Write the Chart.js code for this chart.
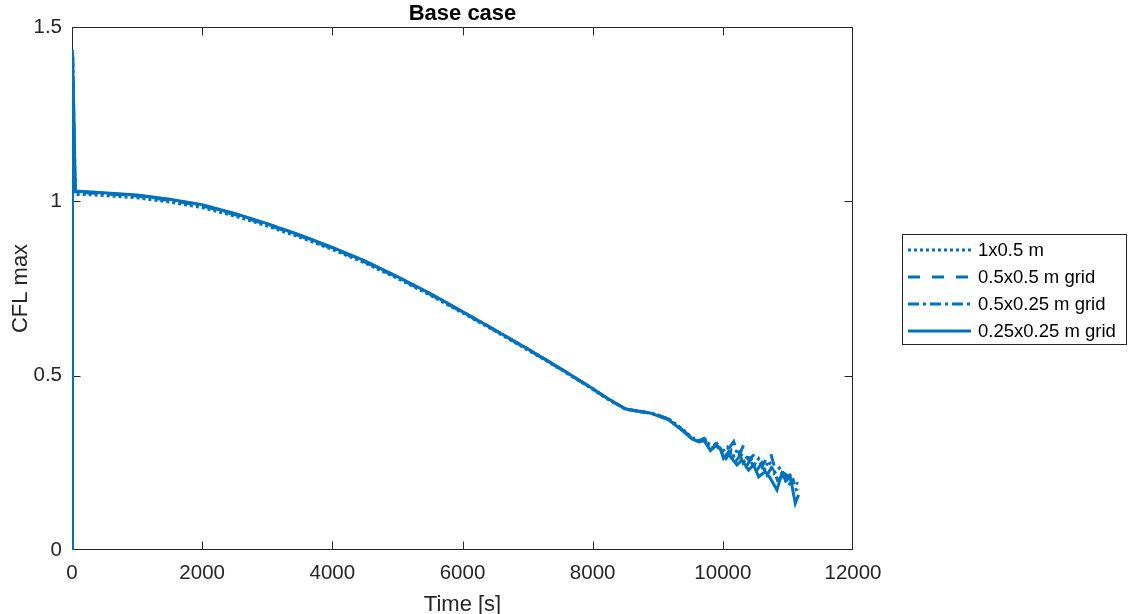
<!DOCTYPE html>
<html>
<head>
<meta charset="utf-8">
<title>Base case</title>
<script src="https://cdn.jsdelivr.net/npm/chart.js@4.4.1/dist/chart.umd.min.js"></script>
<style>
  html, body { margin: 0; padding: 0; background: #fff; }
  #wrap { width: 1128px; height: 614px; }
</style>
</head>
<body>
<div id="wrap"><canvas id="cflChart" width="1128" height="614"></canvas></div>
<script>
// ---------- DATA ----------
// shared start of every run: spin-up spike, then the smooth decay (time in s)
const headTime = [0, 8, 50, 300, 1000, 1500, 2000, 2500, 3000, 3500, 4000, 4500,
  5000, 5500, 6000, 6500, 7000, 7500, 8000, 8200, 8500, 8700, 8900];

const cflCoarseHead = [0, 1.42, 1.02, 1.019, 1.010, 0.998, 0.982, 0.958, 0.929, 0.897, 0.862, 0.823,
  0.779, 0.731, 0.680, 0.628, 0.574, 0.519, 0.461, 0.436, 0.404, 0.397, 0.393];
const cflMediumHead = [0, 1.43, 1.025, 1.024, 1.015, 1.003, 0.987, 0.962, 0.933, 0.901, 0.865, 0.826,
  0.782, 0.734, 0.682, 0.630, 0.576, 0.520, 0.462, 0.437, 0.405, 0.399, 0.394];
const cflFineHead = [0, 1.435, 1.028, 1.026, 1.017, 1.005, 0.989, 0.964, 0.935, 0.903, 0.867, 0.828,
  0.783, 0.735, 0.683, 0.631, 0.577, 0.521, 0.463, 0.438, 0.405, 0.398, 0.392];
const cflFinestHead = [0, 1.43, 1.03, 1.027, 1.018, 1.006, 0.990, 0.965, 0.936, 0.904, 0.868, 0.829,
  0.784, 0.736, 0.684, 0.631, 0.577, 0.521, 0.463, 0.438, 0.405, 0.398, 0.392];

// noisy tail of each run
const coarseTailTime = [9170, 9370, 9530, 9640, 9730, 9830, 9910, 9990, 10070, 10150, 10230, 10310,
  10390, 10470, 10550, 10630, 10710, 10790, 10870, 10950, 11030, 11100, 11160];
const coarseTailCfl = [0.376, 0.348, 0.322, 0.314, 0.318, 0.292, 0.305, 0.282, 0.295, 0.265, 0.290, 0.250,
  0.272, 0.240, 0.262, 0.232, 0.255, 0.220, 0.235, 0.205, 0.215, 0.195, 0.190];

const mediumTailTime = [9170, 9370, 9530, 9630, 9710, 9810, 9890, 9960, 10020, 10090, 10166, 10243,
  10319, 10396, 10499, 10601, 10729, 10806, 10908, 11010, 11113, 11164];
const mediumTailCfl = [0.375, 0.346, 0.320, 0.313, 0.320, 0.290, 0.305, 0.290, 0.275, 0.290, 0.311, 0.268,
  0.301, 0.258, 0.277, 0.239, 0.282, 0.229, 0.225, 0.210, 0.182, 0.172];

const fineTailTime = [9170, 9370, 9530, 9640, 9720, 9820, 9900, 9980, 10050, 10130, 10200, 10280,
  10360, 10440, 10520, 10600, 10680, 10760, 10840, 10920, 11000, 11080, 11150];
const fineTailCfl = [0.374, 0.345, 0.319, 0.310, 0.314, 0.287, 0.300, 0.280, 0.262, 0.285, 0.255, 0.275,
  0.240, 0.262, 0.228, 0.250, 0.215, 0.240, 0.200, 0.212, 0.185, 0.200, 0.160];

const finestTailTime = [9170, 9370, 9530, 9630, 9700, 9810, 9885, 9960, 10010, 10090, 10115, 10217,
  10294, 10396, 10473, 10550, 10652, 10729, 10831, 10908, 10985, 11036, 11113, 11164];
const finestTailCfl = [0.373, 0.344, 0.318, 0.311, 0.317, 0.285, 0.301, 0.292, 0.263, 0.282, 0.268, 0.244,
  0.258, 0.229, 0.244, 0.210, 0.225, 0.206, 0.172, 0.220, 0.201, 0.210, 0.134, 0.158];

const seriesNames = ["1x0.5 m", "0.5x0.5 m grid", "0.5x0.25 m grid", "0.25x0.25 m grid"];
const xTicks = [0, 2000, 4000, 6000, 8000, 10000, 12000];
const yTicks = [0, 0.5, 1, 1.5];

// ---------- STYLE ----------
const BLUE = "#0072BD";
const INK = "#262626";
const FONT = "'Liberation Sans', Arial, Helvetica, sans-serif";

function toPoints(ts, vs) {
  return ts.map((t, i) => ({ x: t, y: vs[i] }));
}

const runs = [
  { head: cflCoarseHead, tailT: coarseTailTime, tailV: coarseTailCfl, dash: [3, 3], order: 3 },
  { head: cflMediumHead, tailT: mediumTailTime, tailV: mediumTailCfl, dash: [12, 12], order: 2 },
  { head: cflFineHead,   tailT: fineTailTime,   tailV: fineTailCfl,   dash: [11, 4, 3, 4], order: 1 },
  { head: cflFinestHead, tailT: finestTailTime, tailV: finestTailCfl, dash: [], order: 0 },
];

const datasets = runs.map((r, i) => ({
  label: seriesNames[i],
  data: toPoints(headTime.concat(r.tailT), r.head.concat(r.tailV)),
  borderColor: BLUE,
  backgroundColor: BLUE,
  borderWidth: 3,
  borderDash: r.dash,
  pointRadius: 0,
  tension: 0,
  fill: false,
  order: r.order,
}));

// ---------- AXES BOX, TITLES, LEGEND ----------
const frame = {
  id: "frame",
  beforeDatasetsDraw(chart) {
    const { ctx, chartArea: a, scales: { x, y } } = chart;
    const L = Math.round(a.left) + 0.5, R = Math.round(a.right) - 0.5;
    const T = Math.round(a.top) + 0.5, B = Math.round(a.bottom) - 0.5;
    const clampX = (p) => Math.min(Math.max(p, L), R);
    const clampY = (p) => Math.min(Math.max(p, T), B);
    ctx.save();
    ctx.strokeStyle = INK;
    ctx.lineWidth = 1;
    ctx.strokeRect(L, T, R - L, B - T);
    ctx.beginPath();
    xTicks.forEach(v => {
      const px = clampX(Math.round(x.getPixelForValue(v)) + 0.5);
      ctx.moveTo(px, B); ctx.lineTo(px, B - 8);
      ctx.moveTo(px, T); ctx.lineTo(px, T + 8);
    });
    yTicks.forEach(v => {
      const py = clampY(Math.round(y.getPixelForValue(v)) + 0.5);
      ctx.moveTo(L, py); ctx.lineTo(L + 8, py);
      ctx.moveTo(R, py); ctx.lineTo(R - 8, py);
    });
    ctx.stroke();
    ctx.restore();
  },
  afterDraw(chart) {
    const { ctx, chartArea: a } = chart;
    const midX = (a.left + a.right) / 2;
    ctx.save();
    ctx.fillStyle = "#000";
    ctx.textAlign = "center";
    ctx.textBaseline = "alphabetic";
    ctx.font = `bold 22px ${FONT}`;
    ctx.fillText("Base case", midX, 20);

    ctx.fillStyle = INK;
    ctx.font = `22px ${FONT}`;
    ctx.fillText("Time [s]", midX, 611);

    ctx.save();
    ctx.translate(27, (a.top + a.bottom) / 2);
    ctx.rotate(-Math.PI / 2);
    ctx.fillText("CFL max", 0, 0);
    ctx.restore();

    // legend
    const box = { x: 902.5, y: 234.5, w: 224, h: 110 };
    ctx.fillStyle = "#fff";
    ctx.fillRect(box.x, box.y, box.w, box.h);
    ctx.strokeStyle = INK;
    ctx.lineWidth = 1;
    ctx.strokeRect(box.x, box.y, box.w, box.h);
    ctx.font = `18.5px ${FONT}`;
    ctx.textAlign = "left";
    ctx.textBaseline = "middle";
    chart.data.datasets.forEach((ds, i) => {
      const cy = 250 + i * 27;
      ctx.strokeStyle = ds.borderColor;
      ctx.lineWidth = 3;
      ctx.setLineDash(ds.borderDash);
      ctx.beginPath();
      ctx.moveTo(908, cy);
      ctx.lineTo(971, cy);
      ctx.stroke();
      ctx.setLineDash([]);
      ctx.fillStyle = "#000";
      ctx.fillText(ds.label, 978, cy + 1);
    });
    ctx.restore();
  },
};

// ---------- CHART ----------
new Chart(document.getElementById("cflChart").getContext("2d"), {
  type: "line",
  data: { datasets },
  options: {
    responsive: false,
    animation: false,
    devicePixelRatio: 1,
    layout: { padding: { top: 27, right: 275, left: 0, bottom: 0 } },
    plugins: {
      legend: { display: false },
      title: { display: false },
      tooltip: { enabled: false },
    },
    scales: {
      x: {
        type: "linear",
        min: 0,
        max: 12000,
        afterFit: (s) => { s.height = 64; },
        afterBuildTicks: (s) => { s.ticks = xTicks.map(v => ({ value: v })); },
        grid: { display: false, drawTicks: false },
        border: { display: false },
        ticks: {
          color: INK,
          font: { family: FONT, size: 20.5 },
          padding: 11,
          maxRotation: 0,
          autoSkip: false,
          callback: (v) => String(v),
        },
      },
      y: {
        type: "linear",
        min: 0,
        max: 1.5,
        afterFit: (s) => { s.width = 72; },
        afterBuildTicks: (s) => { s.ticks = yTicks.map(v => ({ value: v })); },
        grid: { display: false, drawTicks: false },
        border: { display: false },
        ticks: {
          color: INK,
          font: { family: FONT, size: 20.5 },
          padding: 10,
          autoSkip: false,
          callback: (v) => String(v),
        },
      },
    },
  },
  plugins: [frame],
});
</script>
</body>
</html>
